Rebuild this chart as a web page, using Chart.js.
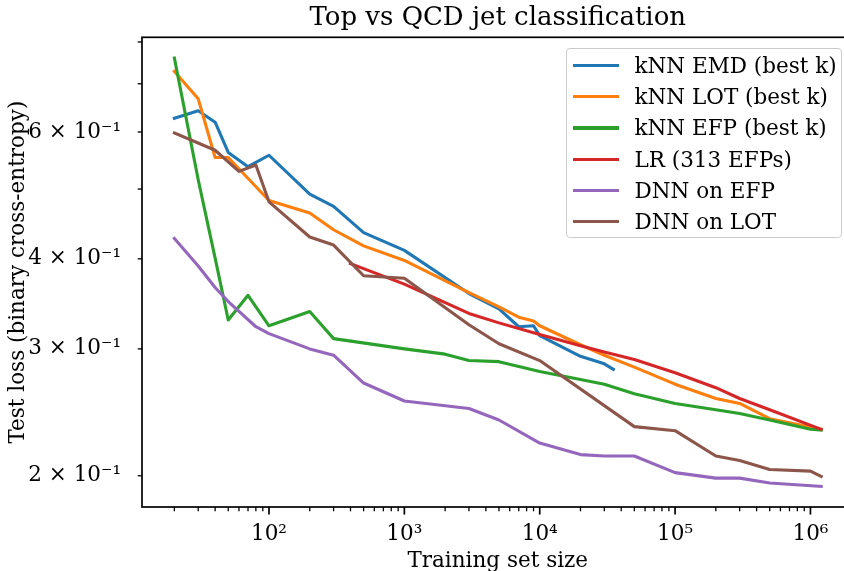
<!DOCTYPE html>
<html>
<head>
<meta charset="utf-8">
<title>Top vs QCD jet classification</title>
<script src="https://cdn.jsdelivr.net/npm/chart.js@4.4.1/dist/chart.umd.min.js"></script>
<style>
    html, body { margin: 0; padding: 0; background: #fff; overflow: hidden; }
    /* the reference is cropped on the right and bottom, so the canvas is a bit larger than the window */
    #wrap { position: relative; width: 856px; height: 575px; }
    #legend {
        position: absolute; left: 566px; top: 48px; width: 276px; height: 190px;
        box-sizing: border-box; border: 1.5px solid #cccccc; border-radius: 4px;
        background: rgba(255, 255, 255, 0.8); padding-top: 1px;
        font-family: "DejaVu Serif", serif; font-size: 21.5px; color: #000;
    }
    .row { display: flex; align-items: center; height: 31.2px; white-space: nowrap; }
    .swatch { width: 46px; height: 3.2px; margin-left: 5.5px; margin-right: 16px; }
</style>
</head>
<body>
<div id="wrap">
    <canvas id="chart"></canvas>
    <div id="legend"></div>
</div>
<script>
// kNN EMD (best k)
const emdSizes = [20, 30, 40, 50, 70, 100, 200, 300, 500, 1000, 3000, 5000, 7000, 9000, 10000, 20000, 30000, 35000];
const emdLoss = [0.627, 0.642, 0.619, 0.562, 0.537, 0.557, 0.492, 0.473, 0.435, 0.411, 0.358, 0.341, 0.322, 0.323, 0.313, 0.293, 0.286, 0.281];

// kNN LOT (best k)
const lotSizes = [20, 30, 40, 50, 100, 200, 300, 500, 1000, 3000, 5000, 7000, 9000, 10000, 20000, 30000, 50000, 100000, 200000, 300000, 500000, 1200000];
const lotLoss = [0.728, 0.667, 0.553, 0.553, 0.482, 0.463, 0.439, 0.417, 0.398, 0.359, 0.343, 0.332, 0.328, 0.323, 0.304, 0.294, 0.283, 0.268, 0.256, 0.252, 0.240, 0.232];

// kNN EFP (best k)
const efpSizes = [20, 30, 40, 50, 70, 100, 200, 300, 1000, 2000, 3000, 5000, 10000, 20000, 30000, 50000, 100000, 200000, 300000, 500000, 1000000, 1200000];
const efpLoss = [0.760, 0.515, 0.401, 0.329, 0.356, 0.323, 0.338, 0.310, 0.300, 0.295, 0.289, 0.288, 0.279, 0.272, 0.268, 0.260, 0.252, 0.247, 0.244, 0.239, 0.232, 0.2315];

// LR (313 EFPs)
const lrSizes = [400, 1000, 3000, 5000, 10000, 20000, 30000, 50000, 100000, 200000, 300000, 500000, 1200000];
const lrLoss = [0.394, 0.369, 0.336, 0.326, 0.314, 0.303, 0.297, 0.290, 0.278, 0.265, 0.256, 0.247, 0.232];

// DNN on EFP
const dnnEfpSizes = [20, 30, 40, 50, 80, 100, 200, 300, 500, 1000, 3000, 5000, 10000, 20000, 30000, 50000, 100000, 200000, 300000, 500000, 1200000];
const dnnEfpLoss = [0.427, 0.391, 0.365, 0.349, 0.322, 0.315, 0.300, 0.294, 0.269, 0.254, 0.248, 0.239, 0.222, 0.214, 0.213, 0.213, 0.202, 0.1985, 0.1985, 0.1954, 0.1933];

// DNN on LOT
const dnnLotSizes = [20, 40, 60, 80, 100, 200, 300, 500, 1000, 3000, 5000, 10000, 50000, 100000, 200000, 300000, 500000, 1000000, 1200000];
const dnnLotLoss = [0.598, 0.566, 0.529, 0.540, 0.480, 0.429, 0.418, 0.379, 0.376, 0.324, 0.305, 0.289, 0.234, 0.231, 0.213, 0.210, 0.204, 0.203, 0.1996];

const seriesNames = ["kNN EMD (best k)", "kNN LOT (best k)", "kNN EFP (best k)", "LR (313 EFPs)", "DNN on EFP", "DNN on LOT"];

// tick labels
const xMajorTicks = [100, 1000, 10000, 100000, 1000000];
const xMajorLabels = ["10²", "10³", "10⁴", "10⁵", "10⁶"];
const yTickValues = [0.2, 0.3, 0.4, 0.5, 0.6, 0.7, 0.8];
const yTickLabels = ["2 × 10⁻¹", "3 × 10⁻¹", "4 × 10⁻¹", "", "6 × 10⁻¹", "", ""];

const colors = ["#1f77b4", "#ff7f0e", "#2ca02c", "#d62728", "#9467bd", "#8c564b"];
const FONT = "'DejaVu Serif', serif";

// minor ticks 2..9 in each decade, plus the labelled decades
let xTickValues = [];
for (let d = 10; d <= 1000000; d *= 10) {
    for (let m = 1; m <= 9; m++) {
        const v = m * d;
        if (v >= 20 && v <= 1000000) xTickValues.push(v);
    }
}

function toPoints(sizes, losses) {
    return sizes.map((s, i) => ({ x: s, y: losses[i] }));
}

const allSeries = [
    toPoints(emdSizes, emdLoss),
    toPoints(lotSizes, lotLoss),
    toPoints(efpSizes, efpLoss),
    toPoints(lrSizes, lrLoss),
    toPoints(dnnEfpSizes, dnnEfpLoss),
    toPoints(dnnLotSizes, dnnLotLoss),
];

// matplotlib style ticks (outward, major longer) and the axes frame
const axesFrame = {
    id: "axesFrame",
    afterDatasetsDraw(chart) {
        const ctx = chart.ctx;
        const area = chart.chartArea;
        const xs = chart.scales.x;
        const ys = chart.scales.y;
        ctx.save();
        ctx.strokeStyle = "#000";
        xs.ticks.forEach((t) => {
            const px = xs.getPixelForValue(t.value);
            const major = xMajorTicks.includes(t.value);
            ctx.lineWidth = major ? 1.7 : 1.3;
            ctx.beginPath();
            ctx.moveTo(px, area.bottom);
            ctx.lineTo(px, area.bottom + (major ? 7.6 : 4.3));
            ctx.stroke();
        });
        ys.ticks.forEach((t) => {
            const py = ys.getPixelForValue(t.value);
            ctx.lineWidth = 1.3;
            ctx.beginPath();
            ctx.moveTo(area.left, py);
            ctx.lineTo(area.left - 4.3, py);
            ctx.stroke();
        });
        ctx.lineWidth = 1.7;
        ctx.strokeRect(area.left, area.top, area.right - area.left, area.bottom - area.top);
        ctx.restore();
    },
};

// legend as html, built from the chart datasets
const htmlLegend = {
    id: "htmlLegend",
    afterUpdate(chart) {
        const box = document.getElementById("legend");
        box.innerHTML = "";
        chart.data.datasets.forEach((ds) => {
            const row = document.createElement("div");
            row.className = "row";
            const sw = document.createElement("span");
            sw.className = "swatch";
            sw.style.background = ds.borderColor;
            const txt = document.createElement("span");
            txt.textContent = ds.label;
            row.appendChild(sw);
            row.appendChild(txt);
            box.appendChild(row);
        });
    },
};

new Chart("chart", {
    type: "line",
    data: {
        datasets: allSeries.map((pts, i) => ({
            label: seriesNames[i],
            data: pts,
            borderColor: colors[i],
            backgroundColor: colors[i],
            borderWidth: 3.1,
            borderJoinStyle: "round",
            borderCapStyle: "square",
            pointRadius: 0,
            tension: 0,
            fill: false,
            order: allSeries.length - i,
        })),
    },
    options: {
        responsive: true,
        maintainAspectRatio: false,
        animation: false,
        devicePixelRatio: 1,
        layout: { padding: { left: 0, right: 2.5, top: 0, bottom: 0 } },
        plugins: {
            legend: { display: false },
            tooltip: { enabled: false },
            title: {
                display: true,
                fullSize: false,
                text: "Top vs QCD jet classification",
                color: "#000",
                font: { family: FONT, size: 26, weight: "normal", lineHeight: 1.2 },
                padding: { top: 2.2, bottom: 3.9 },
            },
        },
        scales: {
            x: {
                type: "logarithmic",
                min: 11.53,
                max: 2.08e6,
                afterBuildTicks: (scale) => {
                    scale.ticks = xTickValues.map((v) => ({ value: v }));
                },
                afterFit: (scale) => {
                    scale.height = 68;
                },
                grid: { display: false },
                border: { display: false },
                ticks: {
                    autoSkip: false,
                    maxRotation: 0,
                    padding: 7,
                    color: "#000",
                    font: { family: FONT, size: 21.5 },
                    callback: (v) => {
                        const k = xMajorTicks.indexOf(v);
                        return k >= 0 ? xMajorLabels[k] : "";
                    },
                },
                title: {
                    display: true,
                    text: "Training set size",
                    color: "#000",
                    font: { family: FONT, size: 21.5 },
                    padding: { top: 0, bottom: 1 },
                },
            },
            y: {
                type: "logarithmic",
                min: 0.181,
                max: 0.812,
                afterBuildTicks: (scale) => {
                    scale.ticks = yTickValues.map((v) => ({ value: v }));
                },
                afterFit: (scale) => {
                    scale.width = 142;
                },
                grid: { display: false },
                border: { display: false },
                ticks: {
                    autoSkip: false,
                    padding: 13,
                    color: "#000",
                    font: { family: FONT, size: 21.5 },
                    callback: (v) => {
                        const k = yTickValues.indexOf(v);
                        return k >= 0 ? yTickLabels[k] : "";
                    },
                },
                title: {
                    display: true,
                    text: "Test loss (binary cross-entropy)",
                    color: "#000",
                    font: { family: FONT, size: 21.5 },
                    padding: { top: 6, bottom: 0 },
                },
            },
        },
    },
    plugins: [axesFrame, htmlLegend],
});
</script>
</body>
</html>
